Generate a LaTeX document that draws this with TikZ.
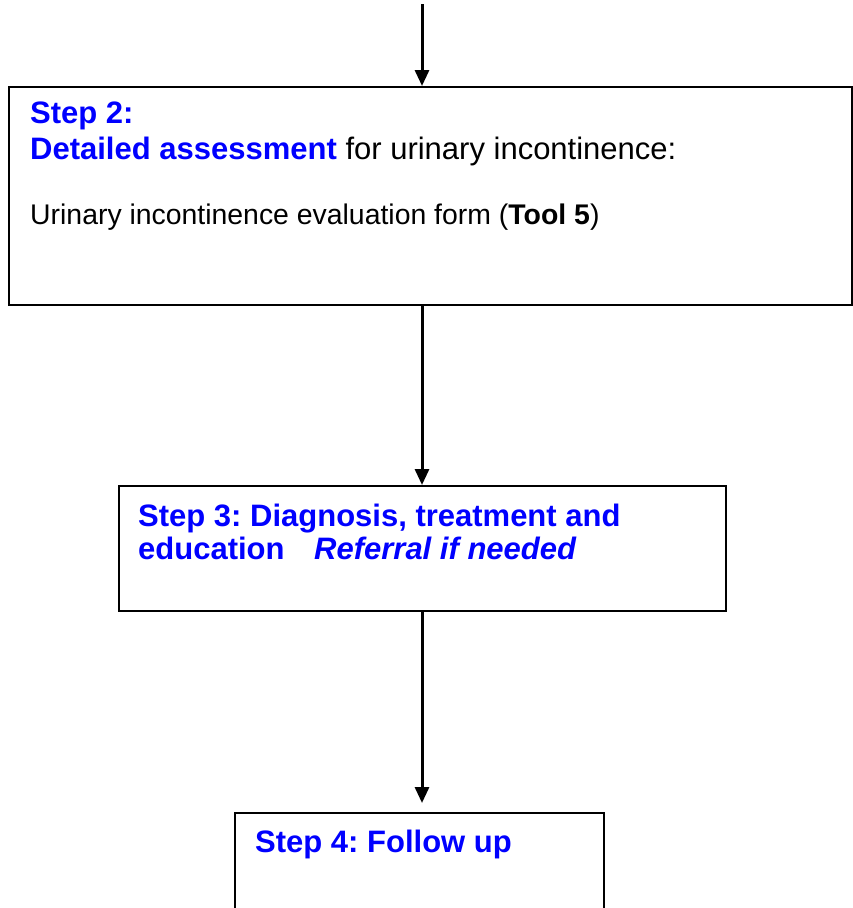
\documentclass[tikz,border=0pt]{standalone}
\usepackage{fontspec}
\setmainfont{Liberation Sans}
\usepackage{xcolor}
\usetikzlibrary{arrows.meta}
\definecolor{stepblue}{RGB}{0,0,255}
\frenchspacing

\begin{document}
\begin{tikzpicture}[x=1pt,y=-1pt,
  font=\fontsize{31}{36}\selectfont]
\useasboundingbox (0,0) rectangle (853,908);

% Boxes
\node[
  draw, rectangle, line width=2pt,
  minimum width=843pt,
  minimum height=218pt,
  inner sep=0pt, anchor=north west
] (assess) at (8,86) {};

\node[
  draw, rectangle, line width=2pt,
  minimum width=607pt,
  minimum height=125pt,
  inner sep=0pt, anchor=north west
] (diagnosis) at (118,485) {};

\node[
  draw, rectangle, line width=2pt,
  minimum width=369pt,
  minimum height=140pt,
  inner sep=0pt, anchor=north west
] (followup) at (234,812) {};

% Texts
\node[inner sep=0pt, anchor=base west, align=left]
  (assesstext) at ([xshift=22pt,yshift=-73pt]assess.north west)
{\textcolor{stepblue}{\textbf{Step 2:}}\\
 \textcolor{stepblue}{\textbf{Detailed assessment}} for urinary incontinence:};

\node[inner sep=0pt, anchor=base west, font=\fontsize{28.4}{34}\selectfont]
  (formtext) at ([yshift=-65pt]assesstext.base west)
{Urinary incontinence evaluation form (\textbf{Tool 5})};

\node[inner sep=0pt, anchor=base west, align=left, text=stepblue,
  font=\fontsize{31}{33}\selectfont\bfseries]
  (diagnosistext) at ([xshift=20pt,yshift=-74pt]diagnosis.north west)
{Step 3: Diagnosis, treatment and\\
 education\hspace{21pt} \textit{Referral if needed}};

\node[inner sep=0pt, anchor=base west, text=stepblue,
  font=\fontsize{31}{36}\selectfont\bfseries]
  (followuptext) at ([xshift=21pt,yshift=-40pt]followup.north west)
{Step 4: Follow up};

% Arrows
\coordinate (axis) at (422,4);
\draw[-{Triangle[width=14pt,length=16pt]},line width=3pt]
  (axis) -- (axis |- assess.north);
\draw[-{Triangle[width=14pt,length=16pt]},line width=3pt]
  (axis |- assess.south) -- (axis |- diagnosis.north);
\draw[-{Triangle[width=14pt,length=16pt]},line width=3pt,shorten >=9pt]
  (axis |- diagnosis.south) -- (axis |- followup.north);

\end{tikzpicture}
\end{document}
